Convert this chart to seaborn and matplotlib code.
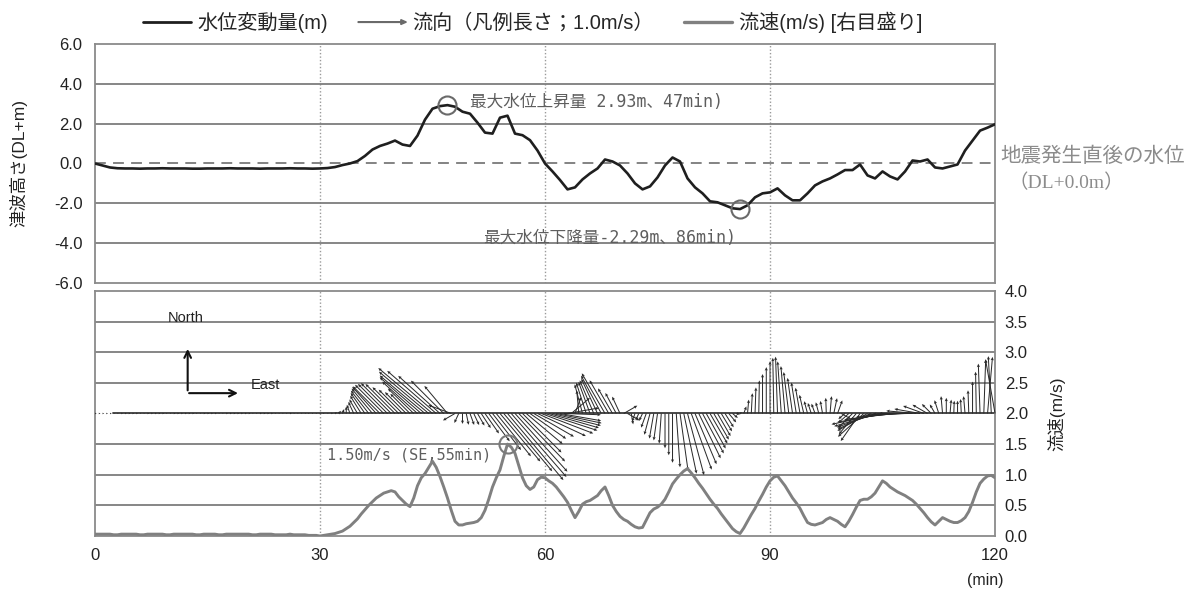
import numpy as np
import pandas as pd
import matplotlib
matplotlib.use("Agg")
import matplotlib.pyplot as plt
import matplotlib.patches as mpatches
from matplotlib.lines import Line2D
from matplotlib.legend_handler import HandlerPatch
import seaborn as sns

# ---- water level, one sample per minute after the earthquake ----
level_minutes = list(range(0, 121))
water_level = [  # m (DL+)
    0.00, -0.10, -0.20, -0.24, -0.25, -0.25, -0.26, -0.25, -0.25, -0.24,
    -0.25, -0.25, -0.25, -0.26, -0.26, -0.25, -0.25, -0.25, -0.24, -0.25,
    -0.25, -0.25, -0.26, -0.25, -0.25, -0.25, -0.24, -0.25, -0.25, -0.26,
    -0.25, -0.23, -0.18, -0.08, 0.00, 0.12, 0.38, 0.70, 0.88, 1.00,
    1.15, 0.95, 0.88, 1.40, 2.20, 2.75, 2.88, 2.93, 2.85, 2.60,
    2.50, 2.05, 1.55, 1.50, 2.30, 2.40, 1.50, 1.42, 1.17, 0.65,
    0.00, -0.40, -0.83, -1.30, -1.20, -0.80, -0.50, -0.25, 0.20, 0.10,
    -0.10, -0.50, -1.00, -1.30, -1.15, -0.70, -0.10, 0.30, 0.10, -0.75,
    -1.20, -1.50, -1.90, -1.95, -2.10, -2.25, -2.29, -2.10, -1.70, -1.50,
    -1.45, -1.25, -1.60, -1.85, -1.85, -1.50, -1.10, -0.90, -0.75, -0.55,
    -0.33, -0.33, -0.05, -0.60, -0.75, -0.40, -0.65, -0.80, -0.40, 0.15,
    0.10, 0.20, -0.20, -0.25, -0.15, -0.05, 0.65, 1.15, 1.65, 1.80,
    1.97,
]

# ---- current meter, one sample per half minute ----
current_minutes = [i / 2 for i in range(0, 241)]
current_speed = [  # m/s
    0.03, 0.03, 0.03, 0.03, 0.03, 0.02, 0.02, 0.03, 0.03, 0.03,
    0.03, 0.03, 0.02, 0.02, 0.03, 0.03, 0.03, 0.03, 0.03, 0.02,
    0.02, 0.03, 0.03, 0.03, 0.03, 0.03, 0.03, 0.02, 0.02, 0.03,
    0.03, 0.03, 0.03, 0.02, 0.02, 0.03, 0.03, 0.03, 0.03, 0.03,
    0.03, 0.03, 0.02, 0.02, 0.03, 0.03, 0.03, 0.03, 0.02, 0.02,
    0.02, 0.02, 0.03, 0.02, 0.02, 0.02, 0.02, 0.01, 0.01, 0.01,
    0.00, 0.01, 0.02, 0.03, 0.04, 0.06, 0.08, 0.12, 0.16, 0.22,
    0.28, 0.36, 0.43, 0.50, 0.56, 0.62, 0.66, 0.70, 0.72, 0.74,
    0.72, 0.64, 0.58, 0.52, 0.48, 0.62, 0.82, 0.95, 1.02, 1.12,
    1.22, 1.12, 0.97, 0.80, 0.62, 0.42, 0.24, 0.18, 0.18, 0.20,
    0.21, 0.22, 0.24, 0.30, 0.42, 0.60, 0.80, 0.95, 1.08, 1.30,
    1.50, 1.45, 1.35, 1.15, 0.95, 0.82, 0.76, 0.80, 0.92, 0.96,
    0.95, 0.90, 0.86, 0.80, 0.72, 0.64, 0.55, 0.42, 0.30, 0.40,
    0.52, 0.56, 0.58, 0.62, 0.66, 0.74, 0.80, 0.66, 0.50, 0.40,
    0.32, 0.27, 0.24, 0.19, 0.15, 0.13, 0.14, 0.26, 0.38, 0.44,
    0.47, 0.52, 0.60, 0.72, 0.85, 0.93, 1.00, 1.06, 1.10, 1.03,
    0.95, 0.86, 0.78, 0.69, 0.60, 0.52, 0.45, 0.36, 0.28, 0.20,
    0.12, 0.07, 0.04, 0.13, 0.24, 0.35, 0.45, 0.57, 0.68, 0.80,
    0.90, 0.96, 0.98, 0.90, 0.82, 0.72, 0.62, 0.54, 0.45, 0.33,
    0.22, 0.19, 0.18, 0.20, 0.22, 0.27, 0.30, 0.27, 0.24, 0.19,
    0.15, 0.24, 0.35, 0.47, 0.58, 0.60, 0.60, 0.64, 0.70, 0.80,
    0.90, 0.86, 0.80, 0.76, 0.72, 0.69, 0.66, 0.62, 0.58, 0.52,
    0.45, 0.38, 0.30, 0.23, 0.18, 0.24, 0.30, 0.27, 0.24, 0.22,
    0.22, 0.25, 0.30, 0.40, 0.55, 0.72, 0.86, 0.93, 0.98, 0.99,
    0.95,
]
current_dir = [  # degrees clockwise from north (direction the water moves)
    90, 90, 90, 90, 90, 90, 90, 90, 90, 90,
    90, 90, 90, 90, 90, 90, 90, 90, 90, 90,
    90, 90, 90, 90, 90, 90, 90, 90, 90, 90,
    90, 90, 90, 90, 90, 90, 90, 90, 90, 90,
    90, 90, 90, 90, 90, 90, 90, 90, 90, 90,
    90, 90, 90, 90, 90, 90, 90, 90, 90, 90,
    90, 95, 100, 80, 60, 40, 20, 0, 340, 335,
    330, 328, 325, 322, 320, 318, 315, 315, 315, 315,
    315, 315, 315, 315, 315, 314, 312, 311, 310, 310,
    310, 311, 312, 315, 320, 290, 240, 205, 180, 168,
    160, 155, 150, 147, 145, 143, 142, 141, 140, 140,
    140, 139, 138, 136, 135, 130, 125, 120, 115, 111,
    108, 106, 104, 102, 100, 92, 80, 50, 20, 355,
    345, 342, 340, 337, 335, 332, 330, 330, 330, 332,
    335, 60, 120, 170, 200, 205, 205, 200, 195, 190,
    188, 184, 180, 180, 180, 176, 172, 168, 165, 160,
    157, 154, 152, 151, 150, 150, 150, 149, 148, 140,
    130, 100, 60, 20, 5, 3, 2, 1, 0, 0,
    0, 359, 358, 356, 355, 353, 352, 351, 350, 347,
    345, 342, 340, 345, 350, 358, 5, 12, 20, 120,
    230, 228, 225, 220, 215, 228, 240, 245, 250, 254,
    258, 260, 262, 263, 265, 266, 268, 269, 270, 275,
    280, 290, 300, 315, 330, 342, 355, 0, 5, 2,
    0, 357, 355, 358, 0, 359, 358, 2, 5, 357,
    350,
]

legend_labels = ["水位変動量(m)", "流向（凡例長さ；1.0m/s）", "流速(m/s) [右目盛り]"]
x_ticks = [0, 30, 60, 90, 120]

df_level = pd.DataFrame({"minute": level_minutes, "level": water_level})
df_cur = pd.DataFrame({"minute": current_minutes, "speed": current_speed,
                       "direction": current_dir})

# ---- style ----
sns.set_theme(style="white")
plt.rcParams["font.family"] = ["Liberation Sans", "Noto Sans CJK JP", "DejaVu Sans"]
plt.rcParams["axes.unicode_minus"] = False

GRID = "#7d7d7d"
SPINE = "#8a8a8a"
TXT = "#222222"
NOTE = "#5e5e5e"
ANNOT_FONT = ["DejaVu Sans Mono", "Noto Sans CJK JP"]

fig = plt.figure(figsize=(11.99, 5.92), dpi=100)
ax1 = fig.add_axes([0.0792, 0.5220, 0.7507, 0.4037])
ax2 = fig.add_axes([0.0792, 0.0946, 0.7507, 0.4139])

for ax in (ax1, ax2):
    ax.set_xlim(0, 120)
    for s in ax.spines.values():
        s.set_color(SPINE)
        s.set_linewidth(1.3)
    for xv in (30, 60, 90):
        ax.axvline(xv, color="#9a9a9a", lw=1.0, ls=(0, (1, 1.5)), zorder=1)

# ---- top panel: water level ----
ax1.set_ylim(-6, 6)
ax1.set_yticks(np.arange(-6, 6.1, 2))
ax1.set_yticklabels([f"{v:.1f}" for v in np.arange(-6, 6.1, 2)])
for yv in (-4, -2, 2, 4):
    ax1.axhline(yv, color=GRID, lw=1.3, zorder=1)
ax1.axhline(0, color="#7a7a7a", lw=1.3, ls=(0, (6, 4)), zorder=1)
sns.lineplot(data=df_level, x="minute", y="level", ax=ax1, color="#1f1f1f",
             lw=1.9, zorder=4)
ax1.set_xticks([])
ax1.set_xlabel("")
ax1.set_ylabel("津波高さ(DL+m)", fontsize=12.5, color=TXT)
ax1.yaxis.set_label_coords(-0.075, 0.5)
ax1.tick_params(axis="y", length=0, pad=9, labelsize=12, labelcolor=TXT)

# highest and lowest water level, circled
i_max = int(np.argmax(water_level))
i_min = int(np.argmin(water_level))
ax1.plot(level_minutes[i_max], water_level[i_max], "o", ms=13, mfc="none",
         mec="#6a6a6a", mew=1.5, zorder=5)
ax1.plot(level_minutes[i_min], water_level[i_min], "o", ms=13, mfc="none",
         mec="#6a6a6a", mew=1.5, zorder=5)
ax1.annotate(f"最大水位上昇量 {water_level[i_max]:.2f}m、{level_minutes[i_max]}min)",
             (level_minutes[i_max], water_level[i_max]), xytext=(16, 2),
             textcoords="offset points", ha="left", va="center",
             fontsize=12, color=NOTE, family=ANNOT_FONT)
ax1.annotate(f"最大水位下降量{water_level[i_min]:.2f}m、{level_minutes[i_min]}min)",
             (level_minutes[i_min], water_level[i_min]), xytext=(-3, -21),
             textcoords="offset points", ha="right", va="center",
             fontsize=12, color=NOTE, family=ANNOT_FONT)

serif_cjk = ["Liberation Serif", "Noto Sans CJK JP"]
fig.text(1000 / 1199, 1 - 157 / 592, "地震発生直後の水位", ha="left",
         va="center", fontsize=14.8, color="#8c8c8c", family=serif_cjk)
fig.text(1008 / 1199, 1 - 183 / 592, "（DL+0.0m）", ha="left", va="center",
         fontsize=14, color="#8c8c8c", family=serif_cjk)

# ---- bottom panel: current speed and direction ----
ax2.set_ylim(0, 4)
for yv in (0.5, 1.0, 1.5, 2.5, 3.0, 3.5):
    ax2.axhline(yv, color=GRID, lw=1.3, zorder=1)
ax2.axhline(2.0, xmin=0.02, color="#3a3a3a", lw=1.3, zorder=2)

sns.lineplot(data=df_cur, x="minute", y="speed", ax=ax2, color="#808080",
             lw=2.1, zorder=4)

rad = np.deg2rad(df_cur["direction"].to_numpy())
u = df_cur["speed"].to_numpy() * np.sin(rad)
v = df_cur["speed"].to_numpy() * np.cos(rad)
ax2.quiver(df_cur["minute"], np.full(len(df_cur), 2.0), u, v, angles="uv",
           scale_units="inches", scale=1 / 0.58, units="dots", width=1.0,
           headwidth=3.2, headlength=3.5, headaxislength=3.0,
           color="#2a2a2a", zorder=3, clip_on=False)

i_spd = int(np.argmax(current_speed))
ax2.plot(current_minutes[i_spd], current_speed[i_spd], "o", ms=13, mfc="none",
         mec="#7a7a7a", mew=1.5, zorder=5)
ax2.annotate(f"{current_speed[i_spd]:.2f}m/s (SE,{current_minutes[i_spd]:.0f}min)",
             (current_minutes[i_spd], current_speed[i_spd]), xytext=(-12, -8),
             textcoords="offset points", ha="right", va="center",
             fontsize=11, color=NOTE, family=ANNOT_FONT)

ax2.yaxis.tick_right()
ax2.yaxis.set_label_position("right")
ax2.set_yticks(np.arange(0, 4.01, 0.5))
ax2.set_yticklabels([f"{v:.1f}" for v in np.arange(0, 4.01, 0.5)])
ax2.set_ylabel("流速(m/s)", fontsize=12.5, color=TXT, rotation=90)
ax2.yaxis.set_label_coords(1.058, 0.5)
ax2.set_xticks(x_ticks)
ax2.set_xticklabels([str(t) for t in x_ticks])
ax2.set_xlabel("")
ax2.tick_params(axis="both", length=0, labelsize=12, labelcolor=TXT)
ax2.tick_params(axis="x", pad=9)
ax2.tick_params(axis="y", pad=7)
fig.text(985 / 1199, 1 - 580 / 592, "(min)", ha="center", va="center",
         fontsize=11.5, color=TXT)

# compass
ax2.annotate("", xy=(0.103, 0.775), xytext=(0.103, 0.583),
             xycoords="axes fraction",
             arrowprops=dict(arrowstyle="->", color="#111111", lw=1.5))
ax2.annotate("", xy=(0.162, 0.583), xytext=(0.1015, 0.583),
             xycoords="axes fraction",
             arrowprops=dict(arrowstyle="->", color="#111111", lw=1.5))
ax2.text(0.101, 0.89, "North", transform=ax2.transAxes, ha="center",
         va="center", fontsize=10.5, color="#222222")
ax2.text(0.189, 0.617, "East", transform=ax2.transAxes, ha="center",
         va="center", fontsize=10.5, color="#222222")

# ---- legend ----
def make_arrow(legend, orig_handle, xdescent, ydescent, width, height, fontsize):
    return mpatches.FancyArrow(-xdescent, height / 2 - ydescent, width, 0,
                               width=0.5, head_width=3.5, head_length=4,
                               length_includes_head=True)

h_level = Line2D([], [], color="#1f1f1f", lw=2.0)
h_dir = mpatches.FancyArrow(0, 0, 1, 0, color="#6a6a6a")
h_speed = Line2D([], [], color="#808080", lw=2.4)
fig.legend([h_level, h_dir, h_speed], legend_labels, loc="center",
           bbox_to_anchor=(0.444, 0.962), ncol=3, frameon=False,
           fontsize=14.5, handlelength=2.4, handletextpad=0.3,
           columnspacing=1.5,
           handler_map={mpatches.FancyArrow: HandlerPatch(patch_func=make_arrow)})

fig.savefig("out.png", dpi=100)
